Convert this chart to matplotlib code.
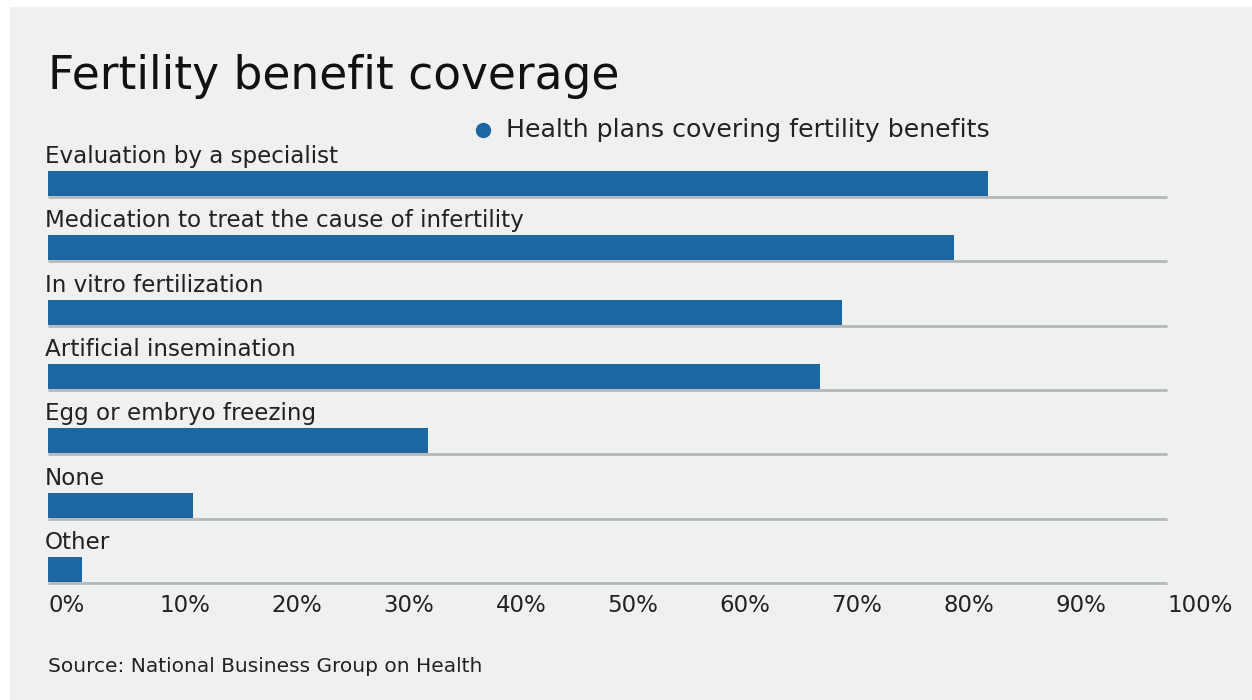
import numpy as np
import matplotlib
matplotlib.use("Agg")
from matplotlib import pyplot as plt
from matplotlib.patches import Rectangle
from matplotlib.lines import Line2D

# data (percent of health plans)
categories = [
    "Evaluation by a specialist",
    "Medication to treat the cause of infertility",
    "In vitro fertilization",
    "Artificial insemination",
    "Egg or embryo freezing",
    "None",
    "Other",
]
coverage = [84, 81, 71, 69, 34, 13, 3]
tick_values = [0, 10, 20, 30, 40, 50, 60, 70, 80, 90, 100]
tick_labels = ["%d%%" % t for t in tick_values]

bar_color = "#1c66a1"
grid_color = "#b5b8b8"
text_color = "#222222"
bg_color = "#eff0f0"

plt.rcParams["font.family"] = ["DejaVu Sans"]

W, H = 1252, 700
fig = plt.figure(figsize=(W / 100, H / 100), dpi=100, facecolor="white")

# light grey panel
fig.patches.append(
    Rectangle((10 / W, 0), 1 - 10 / W, 1 - 7 / H, transform=fig.transFigure,
              facecolor=bg_color, edgecolor="none", zorder=-10)
)

# axes: x from 48 px to 1167 px, rows 64.33 px apart ending at 583 px
row = 64.33
bottom_px = 583
top_px = bottom_px - 7 * row
ax = fig.add_axes([48 / W, 1 - bottom_px / H, 1119 / W, (bottom_px - top_px) / H])
ax.set_facecolor("none")
ax.set_xlim(0, 100)
ax.set_ylim(7, 0)

bar_h = 25 / row
for i, (cat, val) in enumerate(zip(categories, coverage)):
    base = i + 1
    ax.barh(base - bar_h / 2 - 0.015, val, height=bar_h, color=bar_color, zorder=3)
    ax.plot([0, 100], [base, base], color=grid_color, lw=2, zorder=2,
            solid_capstyle="butt", clip_on=False)
    ax.text(-0.3, base - bar_h - 0.14, cat, fontsize=16.6, color=text_color,
            ha="left", va="baseline")

for s in ax.spines.values():
    s.set_visible(False)
ax.set_yticks([])
ax.set_xticks(tick_values)
ax.set_xticklabels(tick_labels, ha="left", fontsize=16.5, color=text_color)
ax.tick_params(axis="x", length=0, pad=8)

# title, legend, source
fig.text(48 / W, 1 - 89 / H, "Fertility benefit coverage", fontsize=32.8,
         color="#111111", ha="left", va="baseline")
fig.add_artist(Line2D([483 / W], [1 - 130 / H], marker="o", markersize=10,
                      color=bar_color, transform=fig.transFigure))
fig.text(506 / W, 1 - 137 / H, "Health plans covering fertility benefits",
         fontsize=18.2, color=text_color, ha="left", va="baseline")
fig.text(48 / W, 1 - 672 / H, "Source: National Business Group on Health",
         fontsize=14.5, color=text_color, ha="left", va="baseline")

fig.savefig("out.png", dpi=100, facecolor=fig.get_facecolor())
